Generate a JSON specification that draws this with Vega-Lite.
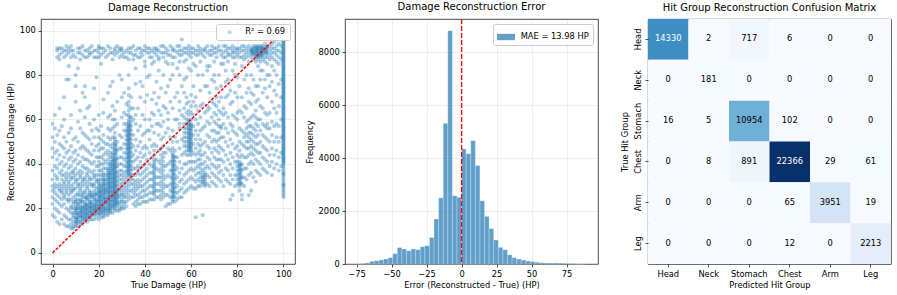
{
"$schema":"https://vega.github.io/schema/vega-lite/v6.json",
"padding":{"left":5,"top":1,"right":0,"bottom":0},
"background":"white",
"spacing":50,
"bounds":"flush",
"resolve":{"scale":{"color":"independent"},"legend":{"color":"independent"}},
"config":{
"font":"DejaVu Sans",
"view":{"stroke":"#1a1a1a","strokeWidth":0.8},
"axis":{"labelFont":"DejaVu Sans","labelFontSize":8.3,"labelColor":"#000","titleFont":"DejaVu Sans","titleFontSize":8.3,"titleFontWeight":"normal","titleColor":"#000","tickColor":"#000","tickSize":2.9,"tickWidth":0.7,"labelPadding":2.9,"domain":false,"gridColor":"#b0b0b0","gridOpacity":0.3,"gridWidth":0.7,"labelFlush":false},
"axisX":{"titlePadding":2.4},
"axisY":{"titlePadding":4},
"title":{"font":"DejaVu Sans","fontSize":10,"fontWeight":"normal","color":"#000","baseline":"alphabetic","offset":6},
"legend":{"labelFont":"DejaVu Sans","labelFontSize":8.3,"labelColor":"#000","fillColor":"white","strokeColor":"#cccccc","cornerRadius":2,"padding":4,"orient":"top-right","offset":5}
},
"datasets":{
"hist":[
{"x0":-75.44,"x1":-72.16,"count":8},{"x0":-72.16,"x1":-68.88,"count":20},{"x0":-68.88,"x1":-65.6,"count":45},{"x0":-65.6,"x1":-62.32,"count":100},{"x0":-62.32,"x1":-59.04,"count":125},{"x0":-59.04,"x1":-55.76,"count":150},{"x0":-55.76,"x1":-52.48,"count":190},{"x0":-52.48,"x1":-49.2,"count":240},{"x0":-49.2,"x1":-45.92,"count":390},{"x0":-45.92,"x1":-42.64,"count":620},{"x0":-42.64,"x1":-39.36,"count":570},{"x0":-39.36,"x1":-36.08,"count":505},{"x0":-36.08,"x1":-32.8,"count":570},{"x0":-32.8,"x1":-29.52,"count":540},{"x0":-29.52,"x1":-26.24,"count":655},{"x0":-26.24,"x1":-22.96,"count":690},{"x0":-22.96,"x1":-19.68,"count":1000},{"x0":-19.68,"x1":-16.4,"count":1700},{"x0":-16.4,"x1":-13.12,"count":2500},{"x0":-13.12,"x1":-9.84,"count":5320},{"x0":-9.84,"x1":-6.56,"count":8820},{"x0":-6.56,"x1":-3.28,"count":2580},{"x0":-3.28,"x1":0,"count":2520},{"x0":0,"x1":3.28,"count":4350},{"x0":3.28,"x1":6.56,"count":4170},{"x0":6.56,"x1":9.84,"count":4660},{"x0":9.84,"x1":13.12,"count":3720},{"x0":13.12,"x1":16.4,"count":2390},{"x0":16.4,"x1":19.68,"count":1800},{"x0":19.68,"x1":22.96,"count":1340},{"x0":22.96,"x1":26.24,"count":910},{"x0":26.24,"x1":29.52,"count":630},{"x0":29.52,"x1":32.8,"count":540},{"x0":32.8,"x1":36.08,"count":350},{"x0":36.08,"x1":39.36,"count":240},{"x0":39.36,"x1":42.64,"count":190},{"x0":42.64,"x1":45.92,"count":150},{"x0":45.92,"x1":49.2,"count":115},{"x0":49.2,"x1":52.48,"count":90},{"x0":52.48,"x1":55.76,"count":65},{"x0":55.76,"x1":59.04,"count":50},{"x0":59.04,"x1":62.32,"count":40},{"x0":62.32,"x1":65.6,"count":40},{"x0":65.6,"x1":68.88,"count":40},{"x0":68.88,"x1":72.16,"count":35},{"x0":72.16,"x1":75.44,"count":25},{"x0":75.44,"x1":78.72,"count":20},{"x0":78.72,"x1":82,"count":15},{"x0":82,"x1":85.28,"count":10},{"x0":85.28,"x1":88.56,"count":5}
],
"cm":[
{"actual":"Head","pred":"Head","count":14330},{"actual":"Head","pred":"Neck","count":2},{"actual":"Head","pred":"Stomach","count":717},{"actual":"Head","pred":"Chest","count":6},{"actual":"Head","pred":"Arm","count":0},{"actual":"Head","pred":"Leg","count":0},
{"actual":"Neck","pred":"Head","count":0},{"actual":"Neck","pred":"Neck","count":181},{"actual":"Neck","pred":"Stomach","count":0},{"actual":"Neck","pred":"Chest","count":0},{"actual":"Neck","pred":"Arm","count":0},{"actual":"Neck","pred":"Leg","count":0},
{"actual":"Stomach","pred":"Head","count":16},{"actual":"Stomach","pred":"Neck","count":5},{"actual":"Stomach","pred":"Stomach","count":10954},{"actual":"Stomach","pred":"Chest","count":102},{"actual":"Stomach","pred":"Arm","count":0},{"actual":"Stomach","pred":"Leg","count":0},
{"actual":"Chest","pred":"Head","count":0},{"actual":"Chest","pred":"Neck","count":8},{"actual":"Chest","pred":"Stomach","count":891},{"actual":"Chest","pred":"Chest","count":22366},{"actual":"Chest","pred":"Arm","count":29},{"actual":"Chest","pred":"Leg","count":61},
{"actual":"Arm","pred":"Head","count":0},{"actual":"Arm","pred":"Neck","count":0},{"actual":"Arm","pred":"Stomach","count":0},{"actual":"Arm","pred":"Chest","count":65},{"actual":"Arm","pred":"Arm","count":3951},{"actual":"Arm","pred":"Leg","count":19},
{"actual":"Leg","pred":"Head","count":0},{"actual":"Leg","pred":"Neck","count":0},{"actual":"Leg","pred":"Stomach","count":0},{"actual":"Leg","pred":"Chest","count":12},{"actual":"Leg","pred":"Arm","count":0},{"actual":"Leg","pred":"Leg","count":2213}
],
"scatter":[
{"x":0,"y":17},{"x":0,"y":22},{"x":0,"y":25},{"x":0,"y":28},{"x":0,"y":30},{"x":0,"y":33},{"x":0,"y":37},{"x":0,"y":43},{"x":0,"y":47},{"x":0,"y":52},{"x":0,"y":58},
{"x":1,"y":16},{"x":1,"y":20},{"x":1,"y":24},{"x":1,"y":27},{"x":1,"y":29},{"x":1,"y":31},{"x":1,"y":35},{"x":1,"y":39},{"x":1,"y":45},{"x":1,"y":50},{"x":1,"y":56},{"x":1,"y":62},
{"x":2,"y":14},{"x":2,"y":19},{"x":2,"y":23},{"x":2,"y":26},{"x":2,"y":30},{"x":2,"y":33},{"x":2,"y":34},{"x":2,"y":38},{"x":2,"y":42},{"x":2,"y":46},{"x":2,"y":53},{"x":2,"y":88},{"x":2,"y":91},{"x":2,"y":92},
{"x":3,"y":13},{"x":3,"y":18},{"x":3,"y":22},{"x":3,"y":25},{"x":3,"y":28},{"x":3,"y":29},{"x":3,"y":31},{"x":3,"y":36},{"x":3,"y":40},{"x":3,"y":44},{"x":3,"y":49},{"x":3,"y":55},{"x":3,"y":65},{"x":3,"y":87},{"x":3,"y":89},{"x":3,"y":92},
{"x":4,"y":15},{"x":4,"y":21},{"x":4,"y":24},{"x":4,"y":27},{"x":4,"y":28},{"x":4,"y":30},{"x":4,"y":33},{"x":4,"y":35},{"x":4,"y":37},{"x":4,"y":41},{"x":4,"y":48},{"x":4,"y":57},{"x":4,"y":90},{"x":4,"y":92},
{"x":5,"y":13},{"x":5,"y":17},{"x":5,"y":22},{"x":5,"y":25},{"x":5,"y":26},{"x":5,"y":29},{"x":5,"y":31},{"x":5,"y":32},{"x":5,"y":35},{"x":5,"y":39},{"x":5,"y":43},{"x":5,"y":47},{"x":5,"y":52},{"x":5,"y":60},{"x":5,"y":70},{"x":5,"y":88},{"x":5,"y":91},
{"x":6,"y":12},{"x":6,"y":16},{"x":6,"y":20},{"x":6,"y":24},{"x":6,"y":27},{"x":6,"y":28},{"x":6,"y":30},{"x":6,"y":33},{"x":6,"y":34},{"x":6,"y":36},{"x":6,"y":40},{"x":6,"y":45},{"x":6,"y":50},{"x":6,"y":78},{"x":6,"y":89},{"x":6,"y":91},{"x":6,"y":93},
{"x":7,"y":12},{"x":7,"y":15},{"x":7,"y":19},{"x":7,"y":23},{"x":7,"y":24},{"x":7,"y":26},{"x":7,"y":29},{"x":7,"y":31},{"x":7,"y":32},{"x":7,"y":35},{"x":7,"y":38},{"x":7,"y":42},{"x":7,"y":46},{"x":7,"y":54},{"x":7,"y":78},{"x":7,"y":84},{"x":7,"y":90},{"x":7,"y":92},
{"x":8,"y":11},{"x":8,"y":13},{"x":8,"y":15},{"x":8,"y":18},{"x":8,"y":20},{"x":8,"y":21},{"x":8,"y":24},{"x":8,"y":27},{"x":8,"y":28},{"x":8,"y":30},{"x":8,"y":33},{"x":8,"y":34},{"x":8,"y":36},{"x":8,"y":39},{"x":8,"y":43},{"x":8,"y":48},{"x":8,"y":56},{"x":8,"y":62},{"x":8,"y":88},{"x":8,"y":91},{"x":8,"y":93},
{"x":9,"y":11},{"x":9,"y":12},{"x":9,"y":14},{"x":9,"y":16},{"x":9,"y":17},{"x":9,"y":18},{"x":9,"y":20},{"x":9,"y":22},{"x":9,"y":23},{"x":9,"y":25},{"x":9,"y":28},{"x":9,"y":29},{"x":9,"y":31},{"x":9,"y":34},{"x":9,"y":36},{"x":9,"y":37},{"x":9,"y":41},{"x":9,"y":45},{"x":9,"y":51},{"x":9,"y":89},{"x":9,"y":91},
{"x":10,"y":12},{"x":10,"y":13},{"x":10,"y":14},{"x":10,"y":15},{"x":10,"y":16},{"x":10,"y":18},{"x":10,"y":19},{"x":10,"y":20},{"x":10,"y":21},{"x":10,"y":23},{"x":10,"y":24},{"x":10,"y":26},{"x":10,"y":29},{"x":10,"y":32},{"x":10,"y":33},{"x":10,"y":35},{"x":10,"y":38},{"x":10,"y":42},{"x":10,"y":46},{"x":10,"y":52},{"x":10,"y":68},{"x":10,"y":75},{"x":10,"y":80},{"x":10,"y":88},
{"x":11,"y":12},{"x":11,"y":14},{"x":11,"y":15},{"x":11,"y":16},{"x":11,"y":17},{"x":11,"y":18},{"x":11,"y":20},{"x":11,"y":21},{"x":11,"y":22},{"x":11,"y":24},{"x":11,"y":26},{"x":11,"y":27},{"x":11,"y":30},{"x":11,"y":31},{"x":11,"y":33},{"x":11,"y":36},{"x":11,"y":40},{"x":11,"y":44},{"x":11,"y":50},{"x":11,"y":59},{"x":11,"y":83},{"x":11,"y":90},{"x":11,"y":92},
{"x":12,"y":13},{"x":12,"y":14},{"x":12,"y":16},{"x":12,"y":17},{"x":12,"y":18},{"x":12,"y":19},{"x":12,"y":20},{"x":12,"y":22},{"x":12,"y":23},{"x":12,"y":24},{"x":12,"y":26},{"x":12,"y":28},{"x":12,"y":29},{"x":12,"y":31},{"x":12,"y":34},{"x":12,"y":35},{"x":12,"y":37},{"x":12,"y":41},{"x":12,"y":47},{"x":12,"y":56},{"x":12,"y":64},{"x":12,"y":87},{"x":12,"y":90},{"x":12,"y":92},
{"x":13,"y":13},{"x":13,"y":15},{"x":13,"y":16},{"x":13,"y":17},{"x":13,"y":18},{"x":13,"y":19},{"x":13,"y":20},{"x":13,"y":21},{"x":13,"y":23},{"x":13,"y":25},{"x":13,"y":26},{"x":13,"y":27},{"x":13,"y":30},{"x":13,"y":32},{"x":13,"y":33},{"x":13,"y":36},{"x":13,"y":39},{"x":13,"y":43},{"x":13,"y":48},{"x":13,"y":54},{"x":13,"y":72},{"x":13,"y":89},{"x":13,"y":93},
{"x":14,"y":14},{"x":14,"y":15},{"x":14,"y":16},{"x":14,"y":17},{"x":14,"y":18},{"x":14,"y":19},{"x":14,"y":20},{"x":14,"y":21},{"x":14,"y":22},{"x":14,"y":23},{"x":14,"y":25},{"x":14,"y":27},{"x":14,"y":28},{"x":14,"y":31},{"x":14,"y":33},{"x":14,"y":34},{"x":14,"y":38},{"x":14,"y":42},{"x":14,"y":47},{"x":14,"y":53},{"x":14,"y":61},{"x":14,"y":70},{"x":14,"y":75},{"x":14,"y":88},{"x":14,"y":91},
{"x":15,"y":14},{"x":15,"y":16},{"x":15,"y":17},{"x":15,"y":18},{"x":15,"y":19},{"x":15,"y":20},{"x":15,"y":21},{"x":15,"y":22},{"x":15,"y":24},{"x":15,"y":25},{"x":15,"y":26},{"x":15,"y":29},{"x":15,"y":30},{"x":15,"y":32},{"x":15,"y":35},{"x":15,"y":36},{"x":15,"y":38},{"x":15,"y":42},{"x":15,"y":46},{"x":15,"y":52},{"x":15,"y":65},{"x":15,"y":88},{"x":15,"y":91},
{"x":16,"y":15},{"x":16,"y":16},{"x":16,"y":17},{"x":16,"y":18},{"x":16,"y":19},{"x":16,"y":20},{"x":16,"y":21},{"x":16,"y":22},{"x":16,"y":23},{"x":16,"y":24},{"x":16,"y":26},{"x":16,"y":27},{"x":16,"y":28},{"x":16,"y":31},{"x":16,"y":33},{"x":16,"y":34},{"x":16,"y":37},{"x":16,"y":41},{"x":16,"y":45},{"x":16,"y":51},{"x":16,"y":58},{"x":16,"y":66},{"x":16,"y":89},{"x":16,"y":90},{"x":16,"y":92},
{"x":17,"y":15},{"x":17,"y":17},{"x":17,"y":18},{"x":17,"y":19},{"x":17,"y":20},{"x":17,"y":21},{"x":17,"y":22},{"x":17,"y":23},{"x":17,"y":25},{"x":17,"y":26},{"x":17,"y":27},{"x":17,"y":30},{"x":17,"y":31},{"x":17,"y":33},{"x":17,"y":36},{"x":17,"y":40},{"x":17,"y":44},{"x":17,"y":49},{"x":17,"y":55},{"x":17,"y":90},{"x":17,"y":93},
{"x":18,"y":15},{"x":18,"y":17},{"x":18,"y":18},{"x":18,"y":19},{"x":18,"y":20},{"x":18,"y":21},{"x":18,"y":22},{"x":18,"y":24},{"x":18,"y":25},{"x":18,"y":26},{"x":18,"y":28},{"x":18,"y":30},{"x":18,"y":31},{"x":18,"y":34},{"x":18,"y":35},{"x":18,"y":37},{"x":18,"y":41},{"x":18,"y":46},{"x":18,"y":52},{"x":18,"y":60},{"x":18,"y":74},{"x":18,"y":88},{"x":18,"y":91},
{"x":19,"y":16},{"x":19,"y":18},{"x":19,"y":19},{"x":19,"y":20},{"x":19,"y":21},{"x":19,"y":22},{"x":19,"y":23},{"x":19,"y":24},{"x":19,"y":26},{"x":19,"y":27},{"x":19,"y":29},{"x":19,"y":32},{"x":19,"y":33},{"x":19,"y":35},{"x":19,"y":39},{"x":19,"y":43},{"x":19,"y":48},{"x":19,"y":56},{"x":19,"y":79},{"x":19,"y":88},{"x":19,"y":91},
{"x":20,"y":15},{"x":20,"y":17},{"x":20,"y":18},{"x":20,"y":19},{"x":20,"y":20},{"x":20,"y":21},{"x":20,"y":22},{"x":20,"y":23},{"x":20,"y":24},{"x":20,"y":25},{"x":20,"y":26},{"x":20,"y":27},{"x":20,"y":28},{"x":20,"y":29},{"x":20,"y":30},{"x":20,"y":31},{"x":20,"y":32},{"x":20,"y":33},{"x":20,"y":35},{"x":20,"y":37},{"x":20,"y":39},{"x":20,"y":41},{"x":20,"y":43},{"x":20,"y":46},{"x":20,"y":49},{"x":20,"y":52},{"x":20,"y":55},{"x":20,"y":62},{"x":20,"y":88},{"x":20,"y":90},{"x":20,"y":92},{"x":20,"y":93},
{"x":21,"y":16},{"x":21,"y":18},{"x":21,"y":19},{"x":21,"y":20},{"x":21,"y":21},{"x":21,"y":22},{"x":21,"y":23},{"x":21,"y":24},{"x":21,"y":25},{"x":21,"y":26},{"x":21,"y":27},{"x":21,"y":28},{"x":21,"y":29},{"x":21,"y":30},{"x":21,"y":31},{"x":21,"y":33},{"x":21,"y":35},{"x":21,"y":37},{"x":21,"y":40},{"x":21,"y":43},{"x":21,"y":47},{"x":21,"y":51},{"x":21,"y":57},{"x":21,"y":85},{"x":21,"y":89},{"x":21,"y":92},
{"x":22,"y":16},{"x":22,"y":17},{"x":22,"y":18},{"x":22,"y":19},{"x":22,"y":20},{"x":22,"y":21},{"x":22,"y":22},{"x":22,"y":23},{"x":22,"y":24},{"x":22,"y":25},{"x":22,"y":26},{"x":22,"y":27},{"x":22,"y":28},{"x":22,"y":29},{"x":22,"y":30},{"x":22,"y":31},{"x":22,"y":32},{"x":22,"y":33},{"x":22,"y":34},{"x":22,"y":35},{"x":22,"y":36},{"x":22,"y":38},{"x":22,"y":40},{"x":22,"y":42},{"x":22,"y":44},{"x":22,"y":47},{"x":22,"y":50},{"x":22,"y":53},{"x":22,"y":63},{"x":22,"y":69},{"x":22,"y":90},{"x":22,"y":92},
{"x":23,"y":17},{"x":23,"y":19},{"x":23,"y":20},{"x":23,"y":22},{"x":23,"y":23},{"x":23,"y":24},{"x":23,"y":25},{"x":23,"y":27},{"x":23,"y":28},{"x":23,"y":29},{"x":23,"y":31},{"x":23,"y":33},{"x":23,"y":35},{"x":23,"y":38},{"x":23,"y":41},{"x":23,"y":45},{"x":23,"y":49},{"x":23,"y":88},{"x":23,"y":91},
{"x":24,"y":17},{"x":24,"y":18},{"x":24,"y":19},{"x":24,"y":20},{"x":24,"y":21},{"x":24,"y":22},{"x":24,"y":23},{"x":24,"y":24},{"x":24,"y":25},{"x":24,"y":26},{"x":24,"y":27},{"x":24,"y":28},{"x":24,"y":29},{"x":24,"y":30},{"x":24,"y":31},{"x":24,"y":32},{"x":24,"y":33},{"x":24,"y":34},{"x":24,"y":35},{"x":24,"y":36},{"x":24,"y":37},{"x":24,"y":38},{"x":24,"y":40},{"x":24,"y":42},{"x":24,"y":44},{"x":24,"y":46},{"x":24,"y":49},{"x":24,"y":52},{"x":24,"y":56},{"x":24,"y":61},{"x":24,"y":72},{"x":24,"y":89},{"x":24,"y":93},
{"x":25,"y":18},{"x":25,"y":19},{"x":25,"y":20},{"x":25,"y":21},{"x":25,"y":22},{"x":25,"y":23},{"x":25,"y":24},{"x":25,"y":25},{"x":25,"y":26},{"x":25,"y":27},{"x":25,"y":28},{"x":25,"y":29},{"x":25,"y":30},{"x":25,"y":31},{"x":25,"y":32},{"x":25,"y":33},{"x":25,"y":34},{"x":25,"y":35},{"x":25,"y":36},{"x":25,"y":37},{"x":25,"y":38},{"x":25,"y":39},{"x":25,"y":40},{"x":25,"y":41},{"x":25,"y":43},{"x":25,"y":45},{"x":25,"y":48},{"x":25,"y":51},{"x":25,"y":55},{"x":25,"y":62},{"x":25,"y":75},{"x":25,"y":90},{"x":25,"y":92},
{"x":26,"y":18},{"x":26,"y":20},{"x":26,"y":21},{"x":26,"y":22},{"x":26,"y":23},{"x":26,"y":24},{"x":26,"y":25},{"x":26,"y":26},{"x":26,"y":27},{"x":26,"y":28},{"x":26,"y":29},{"x":26,"y":30},{"x":26,"y":31},{"x":26,"y":32},{"x":26,"y":33},{"x":26,"y":34},{"x":26,"y":35},{"x":26,"y":36},{"x":26,"y":37},{"x":26,"y":38},{"x":26,"y":39},{"x":26,"y":40},{"x":26,"y":41},{"x":26,"y":42},{"x":26,"y":43},{"x":26,"y":44},{"x":26,"y":45},{"x":26,"y":47},{"x":26,"y":49},{"x":26,"y":52},{"x":26,"y":56},{"x":26,"y":60},{"x":26,"y":66},{"x":26,"y":77},{"x":26,"y":87},{"x":26,"y":90},
{"x":27,"y":19},{"x":27,"y":20},{"x":27,"y":21},{"x":27,"y":22},{"x":27,"y":23},{"x":27,"y":24},{"x":27,"y":25},{"x":27,"y":26},{"x":27,"y":27},{"x":27,"y":28},{"x":27,"y":29},{"x":27,"y":30},{"x":27,"y":31},{"x":27,"y":32},{"x":27,"y":33},{"x":27,"y":34},{"x":27,"y":35},{"x":27,"y":36},{"x":27,"y":37},{"x":27,"y":38},{"x":27,"y":39},{"x":27,"y":40},{"x":27,"y":41},{"x":27,"y":42},{"x":27,"y":43},{"x":27,"y":44},{"x":27,"y":45},{"x":27,"y":46},{"x":27,"y":47},{"x":27,"y":48},{"x":27,"y":49},{"x":27,"y":50},{"x":27,"y":51},{"x":27,"y":52},{"x":27,"y":54},{"x":27,"y":57},{"x":27,"y":60},{"x":27,"y":64},{"x":27,"y":89},{"x":27,"y":91},{"x":27,"y":92},
{"x":28,"y":19},{"x":28,"y":21},{"x":28,"y":22},{"x":28,"y":23},{"x":28,"y":24},{"x":28,"y":25},{"x":28,"y":26},{"x":28,"y":27},{"x":28,"y":28},{"x":28,"y":30},{"x":28,"y":32},{"x":28,"y":34},{"x":28,"y":36},{"x":28,"y":39},{"x":28,"y":42},{"x":28,"y":46},{"x":28,"y":50},{"x":28,"y":58},{"x":28,"y":68},{"x":28,"y":90},{"x":28,"y":93},
{"x":29,"y":19},{"x":29,"y":20},{"x":29,"y":22},{"x":29,"y":23},{"x":29,"y":25},{"x":29,"y":26},{"x":29,"y":28},{"x":29,"y":29},{"x":29,"y":31},{"x":29,"y":33},{"x":29,"y":35},{"x":29,"y":37},{"x":29,"y":40},{"x":29,"y":43},{"x":29,"y":47},{"x":29,"y":53},{"x":29,"y":80},{"x":29,"y":88},{"x":29,"y":91},{"x":29,"y":92},
{"x":30,"y":20},{"x":30,"y":21},{"x":30,"y":23},{"x":30,"y":24},{"x":30,"y":26},{"x":30,"y":27},{"x":30,"y":29},{"x":30,"y":31},{"x":30,"y":33},{"x":30,"y":35},{"x":30,"y":37},{"x":30,"y":40},{"x":30,"y":43},{"x":30,"y":47},{"x":30,"y":52},{"x":30,"y":61},{"x":30,"y":70},{"x":30,"y":78},{"x":30,"y":89},{"x":30,"y":91},{"x":30,"y":92},
{"x":31,"y":20},{"x":31,"y":22},{"x":31,"y":23},{"x":31,"y":25},{"x":31,"y":26},{"x":31,"y":28},{"x":31,"y":30},{"x":31,"y":32},{"x":31,"y":34},{"x":31,"y":36},{"x":31,"y":39},{"x":31,"y":42},{"x":31,"y":45},{"x":31,"y":49},{"x":31,"y":55},{"x":31,"y":58},{"x":31,"y":63},{"x":31,"y":72},{"x":31,"y":88},{"x":31,"y":90},
{"x":32,"y":21},{"x":32,"y":23},{"x":32,"y":25},{"x":32,"y":27},{"x":32,"y":29},{"x":32,"y":31},{"x":32,"y":33},{"x":32,"y":35},{"x":32,"y":37},{"x":32,"y":39},{"x":32,"y":41},{"x":32,"y":43},{"x":32,"y":45},{"x":32,"y":47},{"x":32,"y":49},{"x":32,"y":51},{"x":32,"y":53},{"x":32,"y":55},{"x":32,"y":58},{"x":32,"y":62},{"x":32,"y":67},{"x":32,"y":88},{"x":32,"y":91},
{"x":33,"y":24},{"x":33,"y":26},{"x":33,"y":28},{"x":33,"y":30},{"x":33,"y":32},{"x":33,"y":34},{"x":33,"y":35},{"x":33,"y":36},{"x":33,"y":37},{"x":33,"y":38},{"x":33,"y":39},{"x":33,"y":40},{"x":33,"y":41},{"x":33,"y":42},{"x":33,"y":43},{"x":33,"y":44},{"x":33,"y":45},{"x":33,"y":46},{"x":33,"y":47},{"x":33,"y":48},{"x":33,"y":49},{"x":33,"y":50},{"x":33,"y":51},{"x":33,"y":52},{"x":33,"y":53},{"x":33,"y":54},{"x":33,"y":55},{"x":33,"y":56},{"x":33,"y":57},{"x":33,"y":58},{"x":33,"y":59},{"x":33,"y":60},{"x":33,"y":62},{"x":33,"y":64},{"x":33,"y":66},{"x":33,"y":68},{"x":33,"y":71},{"x":33,"y":74},{"x":33,"y":80},{"x":33,"y":87},{"x":33,"y":90},{"x":33,"y":92},
{"x":34,"y":25},{"x":34,"y":28},{"x":34,"y":31},{"x":34,"y":33},{"x":34,"y":35},{"x":34,"y":37},{"x":34,"y":39},{"x":34,"y":41},{"x":34,"y":43},{"x":34,"y":45},{"x":34,"y":47},{"x":34,"y":49},{"x":34,"y":51},{"x":34,"y":53},{"x":34,"y":55},{"x":34,"y":57},{"x":34,"y":59},{"x":34,"y":61},{"x":34,"y":65},{"x":34,"y":70},{"x":34,"y":90},{"x":34,"y":92},
{"x":35,"y":22},{"x":35,"y":25},{"x":35,"y":27},{"x":35,"y":29},{"x":35,"y":31},{"x":35,"y":33},{"x":35,"y":35},{"x":35,"y":38},{"x":35,"y":41},{"x":35,"y":44},{"x":35,"y":48},{"x":35,"y":53},{"x":35,"y":60},{"x":35,"y":65},{"x":35,"y":87},{"x":35,"y":89},{"x":35,"y":93},
{"x":36,"y":21},{"x":36,"y":23},{"x":36,"y":26},{"x":36,"y":28},{"x":36,"y":30},{"x":36,"y":32},{"x":36,"y":35},{"x":36,"y":38},{"x":36,"y":42},{"x":36,"y":46},{"x":36,"y":51},{"x":36,"y":58},{"x":36,"y":62},{"x":36,"y":76},{"x":36,"y":83},{"x":36,"y":89},{"x":36,"y":91},
{"x":37,"y":22},{"x":37,"y":24},{"x":37,"y":26},{"x":37,"y":29},{"x":37,"y":31},{"x":37,"y":33},{"x":37,"y":36},{"x":37,"y":39},{"x":37,"y":43},{"x":37,"y":48},{"x":37,"y":55},{"x":37,"y":65},{"x":37,"y":88},{"x":37,"y":92},
{"x":38,"y":22},{"x":38,"y":25},{"x":38,"y":27},{"x":38,"y":30},{"x":38,"y":32},{"x":38,"y":35},{"x":38,"y":38},{"x":38,"y":41},{"x":38,"y":45},{"x":38,"y":50},{"x":38,"y":57},{"x":38,"y":70},{"x":38,"y":77},{"x":38,"y":88},{"x":38,"y":90},{"x":38,"y":92},
{"x":39,"y":23},{"x":39,"y":25},{"x":39,"y":28},{"x":39,"y":30},{"x":39,"y":33},{"x":39,"y":36},{"x":39,"y":39},{"x":39,"y":43},{"x":39,"y":47},{"x":39,"y":53},{"x":39,"y":62},{"x":39,"y":75},{"x":39,"y":89},{"x":39,"y":91},
{"x":40,"y":23},{"x":40,"y":26},{"x":40,"y":28},{"x":40,"y":31},{"x":40,"y":34},{"x":40,"y":37},{"x":40,"y":40},{"x":40,"y":44},{"x":40,"y":48},{"x":40,"y":54},{"x":40,"y":60},{"x":40,"y":68},{"x":40,"y":84},{"x":40,"y":86},{"x":40,"y":91},{"x":40,"y":93},
{"x":41,"y":23},{"x":41,"y":26},{"x":41,"y":29},{"x":41,"y":32},{"x":41,"y":35},{"x":41,"y":38},{"x":41,"y":42},{"x":41,"y":47},{"x":41,"y":55},{"x":41,"y":71},{"x":41,"y":79},{"x":41,"y":90},{"x":41,"y":92},
{"x":42,"y":24},{"x":42,"y":27},{"x":42,"y":30},{"x":42,"y":33},{"x":42,"y":36},{"x":42,"y":40},{"x":42,"y":45},{"x":42,"y":51},{"x":42,"y":55},{"x":42,"y":60},{"x":42,"y":80},{"x":42,"y":88},{"x":42,"y":90},{"x":42,"y":92},
{"x":43,"y":24},{"x":43,"y":27},{"x":43,"y":30},{"x":43,"y":33},{"x":43,"y":36},{"x":43,"y":39},{"x":43,"y":43},{"x":43,"y":48},{"x":43,"y":57},{"x":43,"y":63},{"x":43,"y":69},{"x":43,"y":85},{"x":43,"y":88},{"x":43,"y":91},
{"x":44,"y":24},{"x":44,"y":26},{"x":44,"y":27},{"x":44,"y":28},{"x":44,"y":29},{"x":44,"y":30},{"x":44,"y":31},{"x":44,"y":32},{"x":44,"y":33},{"x":44,"y":34},{"x":44,"y":35},{"x":44,"y":36},{"x":44,"y":37},{"x":44,"y":38},{"x":44,"y":39},{"x":44,"y":40},{"x":44,"y":41},{"x":44,"y":42},{"x":44,"y":44},{"x":44,"y":46},{"x":44,"y":49},{"x":44,"y":54},{"x":44,"y":62},{"x":44,"y":72},{"x":44,"y":86},{"x":44,"y":90},{"x":44,"y":92},
{"x":45,"y":25},{"x":45,"y":28},{"x":45,"y":31},{"x":45,"y":34},{"x":45,"y":38},{"x":45,"y":42},{"x":45,"y":48},{"x":45,"y":58},{"x":45,"y":67},{"x":45,"y":77},{"x":45,"y":89},{"x":45,"y":91},{"x":45,"y":92},
{"x":46,"y":25},{"x":46,"y":28},{"x":46,"y":31},{"x":46,"y":34},{"x":46,"y":37},{"x":46,"y":41},{"x":46,"y":46},{"x":46,"y":53},{"x":46,"y":58},{"x":46,"y":64},{"x":46,"y":70},{"x":46,"y":82},{"x":46,"y":87},{"x":46,"y":88},{"x":46,"y":91},
{"x":47,"y":24},{"x":47,"y":26},{"x":47,"y":28},{"x":47,"y":30},{"x":47,"y":32},{"x":47,"y":34},{"x":47,"y":36},{"x":47,"y":38},{"x":47,"y":40},{"x":47,"y":42},{"x":47,"y":44},{"x":47,"y":47},{"x":47,"y":51},{"x":47,"y":57},{"x":47,"y":62},{"x":47,"y":74},{"x":47,"y":90},{"x":47,"y":93},
{"x":48,"y":25},{"x":48,"y":27},{"x":48,"y":29},{"x":48,"y":31},{"x":48,"y":33},{"x":48,"y":35},{"x":48,"y":37},{"x":48,"y":39},{"x":48,"y":41},{"x":48,"y":43},{"x":48,"y":45},{"x":48,"y":48},{"x":48,"y":52},{"x":48,"y":59},{"x":48,"y":66},{"x":48,"y":80},{"x":48,"y":88},{"x":48,"y":90},{"x":48,"y":93},
{"x":49,"y":21},{"x":49,"y":26},{"x":49,"y":30},{"x":49,"y":34},{"x":49,"y":39},{"x":49,"y":45},{"x":49,"y":54},{"x":49,"y":65},{"x":49,"y":72},{"x":49,"y":86},{"x":49,"y":90},{"x":49,"y":92},
{"x":50,"y":22},{"x":50,"y":26},{"x":50,"y":30},{"x":50,"y":35},{"x":50,"y":40},{"x":50,"y":47},{"x":50,"y":56},{"x":50,"y":60},{"x":50,"y":63},{"x":50,"y":75},{"x":50,"y":85},{"x":50,"y":89},{"x":50,"y":91},
{"x":51,"y":22},{"x":51,"y":25},{"x":51,"y":28},{"x":51,"y":31},{"x":51,"y":34},{"x":51,"y":37},{"x":51,"y":41},{"x":51,"y":46},{"x":51,"y":52},{"x":51,"y":68},{"x":51,"y":78},{"x":51,"y":89},{"x":51,"y":93},
{"x":52,"y":23},{"x":52,"y":24},{"x":52,"y":25},{"x":52,"y":26},{"x":52,"y":27},{"x":52,"y":28},{"x":52,"y":29},{"x":52,"y":30},{"x":52,"y":31},{"x":52,"y":32},{"x":52,"y":33},{"x":52,"y":34},{"x":52,"y":35},{"x":52,"y":36},{"x":52,"y":37},{"x":52,"y":38},{"x":52,"y":39},{"x":52,"y":40},{"x":52,"y":41},{"x":52,"y":42},{"x":52,"y":43},{"x":52,"y":44},{"x":52,"y":45},{"x":52,"y":47},{"x":52,"y":50},{"x":52,"y":55},{"x":52,"y":65},{"x":52,"y":80},{"x":52,"y":85},{"x":52,"y":88},{"x":52,"y":91},{"x":52,"y":92},
{"x":53,"y":23},{"x":53,"y":25},{"x":53,"y":27},{"x":53,"y":29},{"x":53,"y":31},{"x":53,"y":33},{"x":53,"y":35},{"x":53,"y":37},{"x":53,"y":39},{"x":53,"y":41},{"x":53,"y":43},{"x":53,"y":46},{"x":53,"y":52},{"x":53,"y":60},{"x":53,"y":70},{"x":53,"y":88},{"x":53,"y":91},
{"x":54,"y":24},{"x":54,"y":27},{"x":54,"y":30},{"x":54,"y":34},{"x":54,"y":38},{"x":54,"y":43},{"x":54,"y":50},{"x":54,"y":60},{"x":54,"y":72},{"x":54,"y":83},{"x":54,"y":90},{"x":54,"y":93},
{"x":55,"y":25},{"x":55,"y":28},{"x":55,"y":32},{"x":55,"y":36},{"x":55,"y":41},{"x":55,"y":47},{"x":55,"y":56},{"x":55,"y":58},{"x":55,"y":64},{"x":55,"y":68},{"x":55,"y":80},{"x":55,"y":86},{"x":55,"y":89},{"x":55,"y":91},{"x":55,"y":93},
{"x":56,"y":25},{"x":56,"y":29},{"x":56,"y":33},{"x":56,"y":38},{"x":56,"y":44},{"x":56,"y":51},{"x":56,"y":62},{"x":56,"y":75},{"x":56,"y":89},{"x":56,"y":91},{"x":56,"y":96},
{"x":57,"y":27},{"x":57,"y":31},{"x":57,"y":35},{"x":57,"y":40},{"x":57,"y":45},{"x":57,"y":48},{"x":57,"y":50},{"x":57,"y":52},{"x":57,"y":54},{"x":57,"y":56},{"x":57,"y":58},{"x":57,"y":61},{"x":57,"y":65},{"x":57,"y":72},{"x":57,"y":78},{"x":57,"y":86},{"x":57,"y":90},{"x":57,"y":92},
{"x":58,"y":28},{"x":58,"y":32},{"x":58,"y":36},{"x":58,"y":40},{"x":58,"y":44},{"x":58,"y":46},{"x":58,"y":48},{"x":58,"y":50},{"x":58,"y":52},{"x":58,"y":54},{"x":58,"y":56},{"x":58,"y":58},{"x":58,"y":60},{"x":58,"y":63},{"x":58,"y":67},{"x":58,"y":70},{"x":58,"y":79},{"x":58,"y":87},{"x":58,"y":90},{"x":58,"y":92},
{"x":59,"y":29},{"x":59,"y":33},{"x":59,"y":37},{"x":59,"y":41},{"x":59,"y":44},{"x":59,"y":46},{"x":59,"y":47},{"x":59,"y":48},{"x":59,"y":49},{"x":59,"y":50},{"x":59,"y":51},{"x":59,"y":52},{"x":59,"y":53},{"x":59,"y":54},{"x":59,"y":55},{"x":59,"y":56},{"x":59,"y":57},{"x":59,"y":58},{"x":59,"y":59},{"x":59,"y":60},{"x":59,"y":62},{"x":59,"y":64},{"x":59,"y":68},{"x":59,"y":83},{"x":59,"y":89},{"x":59,"y":91},{"x":59,"y":93},
{"x":60,"y":30},{"x":60,"y":34},{"x":60,"y":38},{"x":60,"y":41},{"x":60,"y":44},{"x":60,"y":46},{"x":60,"y":47},{"x":60,"y":48},{"x":60,"y":49},{"x":60,"y":50},{"x":60,"y":51},{"x":60,"y":52},{"x":60,"y":53},{"x":60,"y":54},{"x":60,"y":55},{"x":60,"y":56},{"x":60,"y":57},{"x":60,"y":58},{"x":60,"y":60},{"x":60,"y":63},{"x":60,"y":66},{"x":60,"y":71},{"x":60,"y":82},{"x":60,"y":88},{"x":60,"y":90},{"x":60,"y":92},
{"x":61,"y":29},{"x":61,"y":33},{"x":61,"y":37},{"x":61,"y":41},{"x":61,"y":45},{"x":61,"y":49},{"x":61,"y":53},{"x":61,"y":57},{"x":61,"y":62},{"x":61,"y":68},{"x":61,"y":75},{"x":61,"y":85},{"x":61,"y":90},{"x":61,"y":92},
{"x":62,"y":16},{"x":62,"y":29},{"x":62,"y":32},{"x":62,"y":35},{"x":62,"y":38},{"x":62,"y":41},{"x":62,"y":44},{"x":62,"y":47},{"x":62,"y":51},{"x":62,"y":55},{"x":62,"y":60},{"x":62,"y":66},{"x":62,"y":70},{"x":62,"y":84},{"x":62,"y":89},{"x":62,"y":91},
{"x":63,"y":30},{"x":63,"y":33},{"x":63,"y":36},{"x":63,"y":39},{"x":63,"y":42},{"x":63,"y":45},{"x":63,"y":49},{"x":63,"y":53},{"x":63,"y":58},{"x":63,"y":64},{"x":63,"y":80},{"x":63,"y":89},{"x":63,"y":91},{"x":63,"y":93},
{"x":64,"y":30},{"x":64,"y":32},{"x":64,"y":34},{"x":64,"y":36},{"x":64,"y":38},{"x":64,"y":40},{"x":64,"y":42},{"x":64,"y":44},{"x":64,"y":46},{"x":64,"y":48},{"x":64,"y":51},{"x":64,"y":55},{"x":64,"y":61},{"x":64,"y":66},{"x":64,"y":73},{"x":64,"y":86},{"x":64,"y":90},{"x":64,"y":92},
{"x":65,"y":17},{"x":65,"y":31},{"x":65,"y":32},{"x":65,"y":33},{"x":65,"y":34},{"x":65,"y":35},{"x":65,"y":37},{"x":65,"y":40},{"x":65,"y":44},{"x":65,"y":49},{"x":65,"y":56},{"x":65,"y":67},{"x":65,"y":80},{"x":65,"y":89},{"x":65,"y":91},
{"x":66,"y":30},{"x":66,"y":31},{"x":66,"y":32},{"x":66,"y":33},{"x":66,"y":34},{"x":66,"y":35},{"x":66,"y":36},{"x":66,"y":38},{"x":66,"y":41},{"x":66,"y":45},{"x":66,"y":50},{"x":66,"y":57},{"x":66,"y":63},{"x":66,"y":75},{"x":66,"y":88},{"x":66,"y":91},{"x":66,"y":92},
{"x":67,"y":31},{"x":67,"y":35},{"x":67,"y":39},{"x":67,"y":43},{"x":67,"y":48},{"x":67,"y":53},{"x":67,"y":59},{"x":67,"y":64},{"x":67,"y":66},{"x":67,"y":75},{"x":67,"y":82},{"x":67,"y":84},{"x":67,"y":90},{"x":67,"y":93},
{"x":68,"y":30},{"x":68,"y":34},{"x":68,"y":38},{"x":68,"y":42},{"x":68,"y":47},{"x":68,"y":52},{"x":68,"y":58},{"x":68,"y":65},{"x":68,"y":72},{"x":68,"y":84},{"x":68,"y":89},{"x":68,"y":91},
{"x":69,"y":32},{"x":69,"y":36},{"x":69,"y":40},{"x":69,"y":45},{"x":69,"y":50},{"x":69,"y":55},{"x":69,"y":61},{"x":69,"y":68},{"x":69,"y":78},{"x":69,"y":89},{"x":69,"y":91},{"x":69,"y":93},
{"x":70,"y":31},{"x":70,"y":35},{"x":70,"y":39},{"x":70,"y":43},{"x":70,"y":47},{"x":70,"y":51},{"x":70,"y":55},{"x":70,"y":59},{"x":70,"y":63},{"x":70,"y":67},{"x":70,"y":77},{"x":70,"y":80},{"x":70,"y":86},{"x":70,"y":90},{"x":70,"y":92},
{"x":71,"y":30},{"x":71,"y":34},{"x":71,"y":38},{"x":71,"y":42},{"x":71,"y":46},{"x":71,"y":50},{"x":71,"y":54},{"x":71,"y":58},{"x":71,"y":62},{"x":71,"y":66},{"x":71,"y":70},{"x":71,"y":74},{"x":71,"y":88},{"x":71,"y":90},{"x":71,"y":92},
{"x":72,"y":33},{"x":72,"y":36},{"x":72,"y":39},{"x":72,"y":42},{"x":72,"y":45},{"x":72,"y":48},{"x":72,"y":51},{"x":72,"y":54},{"x":72,"y":57},{"x":72,"y":60},{"x":72,"y":64},{"x":72,"y":68},{"x":72,"y":80},{"x":72,"y":91},{"x":72,"y":93},
{"x":73,"y":32},{"x":73,"y":37},{"x":73,"y":42},{"x":73,"y":47},{"x":73,"y":52},{"x":73,"y":56},{"x":73,"y":57},{"x":73,"y":63},{"x":73,"y":70},{"x":73,"y":75},{"x":73,"y":85},{"x":73,"y":89},{"x":73,"y":91},
{"x":74,"y":30},{"x":74,"y":35},{"x":74,"y":41},{"x":74,"y":46},{"x":74,"y":52},{"x":74,"y":58},{"x":74,"y":62},{"x":74,"y":65},{"x":74,"y":85},{"x":74,"y":88},{"x":74,"y":90},{"x":74,"y":93},
{"x":75,"y":33},{"x":75,"y":38},{"x":75,"y":44},{"x":75,"y":50},{"x":75,"y":56},{"x":75,"y":63},{"x":75,"y":70},{"x":75,"y":77},{"x":75,"y":82},{"x":75,"y":88},{"x":75,"y":91},{"x":75,"y":93},
{"x":76,"y":32},{"x":76,"y":37},{"x":76,"y":42},{"x":76,"y":48},{"x":76,"y":54},{"x":76,"y":61},{"x":76,"y":71},{"x":76,"y":78},{"x":76,"y":86},{"x":76,"y":89},{"x":76,"y":90},{"x":76,"y":92},
{"x":77,"y":24},{"x":77,"y":31},{"x":77,"y":35},{"x":77,"y":40},{"x":77,"y":45},{"x":77,"y":51},{"x":77,"y":58},{"x":77,"y":67},{"x":77,"y":73},{"x":77,"y":89},{"x":77,"y":92},
{"x":78,"y":26},{"x":78,"y":33},{"x":78,"y":38},{"x":78,"y":43},{"x":78,"y":49},{"x":78,"y":55},{"x":78,"y":57},{"x":78,"y":62},{"x":78,"y":68},{"x":78,"y":82},{"x":78,"y":88},{"x":78,"y":90},{"x":78,"y":91},{"x":78,"y":93},
{"x":79,"y":30},{"x":79,"y":35},{"x":79,"y":41},{"x":79,"y":47},{"x":79,"y":54},{"x":79,"y":61},{"x":79,"y":72},{"x":79,"y":80},{"x":79,"y":85},{"x":79,"y":88},{"x":79,"y":90},{"x":79,"y":92},
{"x":80,"y":31},{"x":80,"y":33},{"x":80,"y":35},{"x":80,"y":37},{"x":80,"y":39},{"x":80,"y":41},{"x":80,"y":44},{"x":80,"y":48},{"x":80,"y":53},{"x":80,"y":60},{"x":80,"y":63},{"x":80,"y":70},{"x":80,"y":79},{"x":80,"y":89},{"x":80,"y":91},{"x":80,"y":92},
{"x":81,"y":28},{"x":81,"y":30},{"x":81,"y":31},{"x":81,"y":32},{"x":81,"y":33},{"x":81,"y":34},{"x":81,"y":35},{"x":81,"y":36},{"x":81,"y":37},{"x":81,"y":38},{"x":81,"y":39},{"x":81,"y":40},{"x":81,"y":41},{"x":81,"y":43},{"x":81,"y":46},{"x":81,"y":50},{"x":81,"y":56},{"x":81,"y":64},{"x":81,"y":75},{"x":81,"y":88},{"x":81,"y":90},{"x":81,"y":92},
{"x":82,"y":24},{"x":82,"y":26},{"x":82,"y":31},{"x":82,"y":34},{"x":82,"y":37},{"x":82,"y":40},{"x":82,"y":44},{"x":82,"y":49},{"x":82,"y":55},{"x":82,"y":63},{"x":82,"y":70},{"x":82,"y":84},{"x":82,"y":88},{"x":82,"y":91},{"x":82,"y":93},
{"x":83,"y":30},{"x":83,"y":34},{"x":83,"y":38},{"x":83,"y":43},{"x":83,"y":48},{"x":83,"y":52},{"x":83,"y":54},{"x":83,"y":61},{"x":83,"y":66},{"x":83,"y":78},{"x":83,"y":87},{"x":83,"y":89},{"x":83,"y":91},{"x":83,"y":93},
{"x":84,"y":33},{"x":84,"y":38},{"x":84,"y":43},{"x":84,"y":47},{"x":84,"y":50},{"x":84,"y":53},{"x":84,"y":56},{"x":84,"y":59},{"x":84,"y":65},{"x":84,"y":72},{"x":84,"y":80},{"x":84,"y":88},{"x":84,"y":90},{"x":84,"y":92},
{"x":85,"y":26},{"x":85,"y":35},{"x":85,"y":40},{"x":85,"y":44},{"x":85,"y":47},{"x":85,"y":50},{"x":85,"y":52},{"x":85,"y":54},{"x":85,"y":57},{"x":85,"y":60},{"x":85,"y":68},{"x":85,"y":74},{"x":85,"y":86},{"x":85,"y":89},{"x":85,"y":91},{"x":85,"y":93},
{"x":86,"y":28},{"x":86,"y":36},{"x":86,"y":41},{"x":86,"y":45},{"x":86,"y":48},{"x":86,"y":51},{"x":86,"y":54},{"x":86,"y":57},{"x":86,"y":61},{"x":86,"y":67},{"x":86,"y":72},{"x":86,"y":80},{"x":86,"y":88},{"x":86,"y":90},{"x":86,"y":91},{"x":86,"y":92},
{"x":87,"y":34},{"x":87,"y":40},{"x":87,"y":44},{"x":87,"y":47},{"x":87,"y":50},{"x":87,"y":53},{"x":87,"y":56},{"x":87,"y":62},{"x":87,"y":71},{"x":87,"y":78},{"x":87,"y":87},{"x":87,"y":89},{"x":87,"y":90},{"x":87,"y":91},{"x":87,"y":92},{"x":87,"y":93},
{"x":88,"y":32},{"x":88,"y":37},{"x":88,"y":42},{"x":88,"y":46},{"x":88,"y":49},{"x":88,"y":52},{"x":88,"y":55},{"x":88,"y":58},{"x":88,"y":61},{"x":88,"y":64},{"x":88,"y":68},{"x":88,"y":75},{"x":88,"y":86},{"x":88,"y":88},{"x":88,"y":89},{"x":88,"y":90},{"x":88,"y":91},{"x":88,"y":92},{"x":88,"y":93},
{"x":89,"y":36},{"x":89,"y":41},{"x":89,"y":45},{"x":89,"y":49},{"x":89,"y":53},{"x":89,"y":57},{"x":89,"y":60},{"x":89,"y":69},{"x":89,"y":75},{"x":89,"y":84},{"x":89,"y":87},{"x":89,"y":88},{"x":89,"y":89},{"x":89,"y":90},{"x":89,"y":91},{"x":89,"y":92},{"x":89,"y":93},
{"x":90,"y":35},{"x":90,"y":40},{"x":90,"y":45},{"x":90,"y":50},{"x":90,"y":55},{"x":90,"y":60},{"x":90,"y":66},{"x":90,"y":78},{"x":90,"y":82},{"x":90,"y":86},{"x":90,"y":88},{"x":90,"y":89},{"x":90,"y":90},{"x":90,"y":91},{"x":90,"y":92},{"x":90,"y":93},
{"x":91,"y":38},{"x":91,"y":43},{"x":91,"y":48},{"x":91,"y":53},{"x":91,"y":58},{"x":91,"y":65},{"x":91,"y":72},{"x":91,"y":82},{"x":91,"y":87},{"x":91,"y":89},{"x":91,"y":90},{"x":91,"y":91},{"x":91,"y":92},{"x":91,"y":93},
{"x":92,"y":37},{"x":92,"y":42},{"x":92,"y":47},{"x":92,"y":52},{"x":92,"y":57},{"x":92,"y":63},{"x":92,"y":74},{"x":92,"y":78},{"x":92,"y":86},{"x":92,"y":88},{"x":92,"y":90},{"x":92,"y":91},{"x":92,"y":92},{"x":92,"y":94},
{"x":93,"y":36},{"x":93,"y":41},{"x":93,"y":46},{"x":93,"y":51},{"x":93,"y":56},{"x":93,"y":58},{"x":93,"y":62},{"x":93,"y":70},{"x":93,"y":80},{"x":93,"y":85},{"x":93,"y":88},{"x":93,"y":90},{"x":93,"y":92},{"x":93,"y":93},
{"x":94,"y":39},{"x":94,"y":44},{"x":94,"y":50},{"x":94,"y":56},{"x":94,"y":63},{"x":94,"y":75},{"x":94,"y":80},{"x":94,"y":87},{"x":94,"y":89},{"x":94,"y":91},{"x":94,"y":93},
{"x":95,"y":35},{"x":95,"y":41},{"x":95,"y":47},{"x":95,"y":53},{"x":95,"y":59},{"x":95,"y":68},{"x":95,"y":77},{"x":95,"y":84},{"x":95,"y":88},{"x":95,"y":90},{"x":95,"y":92},{"x":95,"y":94},
{"x":96,"y":38},{"x":96,"y":44},{"x":96,"y":50},{"x":96,"y":57},{"x":96,"y":65},{"x":96,"y":73},{"x":96,"y":82},{"x":96,"y":87},{"x":96,"y":90},{"x":96,"y":92},{"x":96,"y":95},
{"x":97,"y":40},{"x":97,"y":46},{"x":97,"y":52},{"x":97,"y":58},{"x":97,"y":63},{"x":97,"y":71},{"x":97,"y":80},{"x":97,"y":86},{"x":97,"y":89},{"x":97,"y":91},{"x":97,"y":93},{"x":97,"y":96},
{"x":98,"y":37},{"x":98,"y":43},{"x":98,"y":50},{"x":98,"y":57},{"x":98,"y":66},{"x":98,"y":76},{"x":98,"y":85},{"x":98,"y":88},{"x":98,"y":91},{"x":98,"y":94},{"x":98,"y":97},
{"x":99,"y":39},{"x":99,"y":45},{"x":99,"y":52},{"x":99,"y":60},{"x":99,"y":70},{"x":99,"y":78},{"x":99,"y":87},{"x":99,"y":90},{"x":99,"y":93},{"x":99,"y":96},
{"x":100,"y":25},{"x":100,"y":26},{"x":100,"y":27},{"x":100,"y":28},{"x":100,"y":29},{"x":100,"y":30},{"x":100,"y":31},{"x":100,"y":32},{"x":100,"y":33},{"x":100,"y":34},{"x":100,"y":35},{"x":100,"y":36},{"x":100,"y":37},{"x":100,"y":38},{"x":100,"y":39},{"x":100,"y":40},{"x":100,"y":41},{"x":100,"y":42},{"x":100,"y":43},{"x":100,"y":44},{"x":100,"y":45},{"x":100,"y":46},{"x":100,"y":47},{"x":100,"y":48},{"x":100,"y":49},{"x":100,"y":50},{"x":100,"y":51},{"x":100,"y":52},{"x":100,"y":53},{"x":100,"y":54},{"x":100,"y":55},{"x":100,"y":56},{"x":100,"y":57},{"x":100,"y":58},{"x":100,"y":59},{"x":100,"y":60},{"x":100,"y":61},{"x":100,"y":62},{"x":100,"y":63},{"x":100,"y":64},{"x":100,"y":65},{"x":100,"y":66},{"x":100,"y":67},{"x":100,"y":68},{"x":100,"y":69},{"x":100,"y":70},{"x":100,"y":71},{"x":100,"y":72},{"x":100,"y":73},{"x":100,"y":74},{"x":100,"y":75},{"x":100,"y":76},{"x":100,"y":77},{"x":100,"y":78},{"x":100,"y":79},{"x":100,"y":80},{"x":100,"y":81},{"x":100,"y":82},{"x":100,"y":83},{"x":100,"y":84},{"x":100,"y":85},{"x":100,"y":86},{"x":100,"y":87},{"x":100,"y":88},{"x":100,"y":89},{"x":100,"y":90},{"x":100,"y":91},{"x":100,"y":92},{"x":100,"y":93},{"x":100,"y":94},{"x":100,"y":95},{"x":100,"y":96},{"x":100,"y":97},{"x":100,"y":98},{"x":100,"y":99},
{"x":100,"y":30.5},{"x":100,"y":35.5},{"x":100,"y":40.5},{"x":100,"y":41.5},{"x":100,"y":42.5},{"x":100,"y":43.5},{"x":100,"y":44.5},{"x":100,"y":45.5},{"x":100,"y":46.5},{"x":100,"y":47.5},{"x":100,"y":48.5},{"x":100,"y":49.5},{"x":100,"y":50.5},{"x":100,"y":51.5},{"x":100,"y":52.5},{"x":100,"y":53.5},{"x":100,"y":54.5},{"x":100,"y":55.5},{"x":100,"y":56.5},{"x":100,"y":57.5},{"x":100,"y":58.5},{"x":100,"y":59.5},{"x":100,"y":60.5},{"x":100,"y":61.5},{"x":100,"y":62.5},{"x":100,"y":63.5},{"x":100,"y":64.5},{"x":100,"y":65.5},{"x":100,"y":66.5},{"x":100,"y":67.5},{"x":100,"y":68.5},{"x":100,"y":69.5},{"x":100,"y":70.5},{"x":100,"y":71.5},{"x":100,"y":72.5},{"x":100,"y":73.5},{"x":100,"y":74.5},{"x":100,"y":75.5},{"x":100,"y":76.5},{"x":100,"y":77.5},{"x":100,"y":78.5},{"x":100,"y":79.5},{"x":100,"y":80.5},{"x":100,"y":81.5},{"x":100,"y":82.5},{"x":100,"y":83.5},{"x":100,"y":84.5},{"x":100,"y":85.5},{"x":100,"y":86.5},{"x":100,"y":87.5},{"x":100,"y":88.5},{"x":100,"y":89.5},{"x":100,"y":90.5},{"x":100,"y":91.5},{"x":100,"y":92.5},{"x":100,"y":93.5},{"x":100,"y":94.5},{"x":100,"y":95.5},{"x":100,"y":96.5},{"x":100,"y":97.5},
{"x":32.5,"y":36.5},{"x":32.5,"y":38.5},{"x":32.5,"y":40.5},{"x":32.5,"y":42.5},{"x":32.5,"y":44.5},{"x":32.5,"y":46.5},{"x":32.5,"y":48.5},{"x":32.5,"y":50.5},{"x":32.5,"y":52.5},{"x":32.5,"y":54.5},{"x":32.5,"y":56.5},
{"x":33.5,"y":35.5},{"x":33.5,"y":37.5},{"x":33.5,"y":39.5},{"x":33.5,"y":41.5},{"x":33.5,"y":43.5},{"x":33.5,"y":45.5},{"x":33.5,"y":47.5},{"x":33.5,"y":49.5},{"x":33.5,"y":51.5},{"x":33.5,"y":53.5},{"x":33.5,"y":55.5},{"x":33.5,"y":57.5},{"x":33.5,"y":61},
{"x":27.5,"y":22.5},{"x":27.5,"y":24.5},{"x":27.5,"y":26.5},{"x":27.5,"y":28.5},{"x":27.5,"y":30.5},{"x":27.5,"y":32.5},{"x":27.5,"y":34.5},{"x":27.5,"y":36.5},{"x":27.5,"y":38.5},{"x":27.5,"y":40.5},{"x":27.5,"y":42.5},{"x":27.5,"y":44.5},{"x":27.5,"y":46.5},{"x":27.5,"y":48.5},
{"x":26.5,"y":21.5},{"x":26.5,"y":23.5},{"x":26.5,"y":25.5},{"x":26.5,"y":27.5},{"x":26.5,"y":29.5},{"x":26.5,"y":31.5},{"x":26.5,"y":33.5},{"x":26.5,"y":35.5},{"x":26.5,"y":37.5},{"x":26.5,"y":39.5},{"x":26.5,"y":41.5},
{"x":24.5,"y":19.5},{"x":24.5,"y":21.5},{"x":24.5,"y":23.5},{"x":24.5,"y":25.5},{"x":24.5,"y":27.5},{"x":24.5,"y":29.5},{"x":24.5,"y":31.5},{"x":24.5,"y":33.5},{"x":24.5,"y":35.5},
{"x":22.5,"y":18.5},{"x":22.5,"y":20.5},{"x":22.5,"y":22.5},{"x":22.5,"y":24.5},{"x":22.5,"y":26.5},{"x":22.5,"y":28.5},{"x":22.5,"y":30.5},{"x":22.5,"y":32.5},
{"x":20.5,"y":17.5},{"x":20.5,"y":19.5},{"x":20.5,"y":21.5},{"x":20.5,"y":23.5},{"x":20.5,"y":25.5},{"x":20.5,"y":27.5},
{"x":10.5,"y":13.5},{"x":10.5,"y":15.5},{"x":10.5,"y":17.5},{"x":10.5,"y":19.5},{"x":10.5,"y":22.5},
{"x":12.5,"y":14.5},{"x":12.5,"y":16.5},{"x":12.5,"y":18.5},{"x":12.5,"y":20.5},{"x":12.5,"y":23.5},
{"x":14.5,"y":15.5},{"x":14.5,"y":17.5},{"x":14.5,"y":19.5},{"x":14.5,"y":21.5},{"x":14.5,"y":24.5},
{"x":16.5,"y":16.5},{"x":16.5,"y":18.5},{"x":16.5,"y":20.5},{"x":16.5,"y":22.5},{"x":16.5,"y":25.5},
{"x":18.5,"y":17.5},{"x":18.5,"y":19.5},{"x":18.5,"y":21.5},{"x":18.5,"y":23.5},{"x":18.5,"y":26.5},
{"x":52.5,"y":25.5},{"x":52.5,"y":27.5},{"x":52.5,"y":29.5},{"x":52.5,"y":31.5},{"x":52.5,"y":33.5},{"x":52.5,"y":35.5},{"x":52.5,"y":37.5},{"x":52.5,"y":39.5},{"x":52.5,"y":41.5},{"x":52.5,"y":43.5},
{"x":59.5,"y":45.5},{"x":59.5,"y":47.5},{"x":59.5,"y":49.5},{"x":59.5,"y":51.5},{"x":59.5,"y":53.5},{"x":59.5,"y":55.5},{"x":59.5,"y":57.5},
{"x":81.5,"y":31.5},{"x":81.5,"y":33.5},{"x":81.5,"y":35.5},{"x":81.5,"y":37.5},{"x":81.5,"y":39.5},
{"x":86.5,"y":89.5},{"x":86.5,"y":90.5},{"x":86.5,"y":91.5},
{"x":88.5,"y":88.5},{"x":88.5,"y":89.5},{"x":88.5,"y":90.5},{"x":88.5,"y":91.5},{"x":88.5,"y":92.5},
{"x":90.5,"y":88.5},{"x":90.5,"y":89.5},{"x":90.5,"y":90.5},{"x":90.5,"y":91.5},{"x":90.5,"y":92.5},
{"x":92.5,"y":89.5},{"x":92.5,"y":90.5},{"x":92.5,"y":91.5},{"x":92.5,"y":92.5}
]
},
"hconcat":[
{
"width":254,"height":245,
"title":"Damage Reconstruction",
"layer":[
{"data":{"name":"scatter"},
"mark":{"type":"circle","size":17,"opacity":0.36},
"encoding":{
"x":{"field":"x","type":"quantitative","scale":{"domain":[-5,105],"nice":false,"zero":false},"axis":{"title":"True Damage (HP)","values":[0,20,40,60,80,100]}},
"y":{"field":"y","type":"quantitative","scale":{"domain":[-5,105.2],"nice":false,"zero":false},"axis":{"title":"Reconstructed Damage (HP)","values":[0,20,40,60,80,100]}},
"color":{"datum":"R² = 0.69","scale":{"range":["#1f77b4"]},"legend":{"title":null,"symbolType":"circle","symbolSize":15,"symbolOpacity":0.3,"symbolOffset":5.5,"labelOffset":11.5,"symbolStrokeWidth":0}}
}},
{"data":{"values":[{"x":0,"y":0},{"x":100,"y":100}]},
"mark":{"type":"line","color":"#ff0000","strokeDash":[3,1.5],"strokeWidth":1.5},
"encoding":{"x":{"field":"x","type":"quantitative"},"y":{"field":"y","type":"quantitative"}}}
]
},
{
"width":253,"height":245,
"title":"Damage Reconstruction Error",
"layer":[
{"data":{"name":"hist"},
"mark":{"type":"rect","opacity":0.7,"stroke":"white","strokeWidth":0.3},
"encoding":{
"x":{"field":"x0","type":"quantitative","scale":{"domain":[-83.3,97.5],"nice":false,"zero":false},"axis":{"title":"Error (Reconstructed - True) (HP)","values":[-75,-50,-25,0,25,50,75]}},
"x2":{"field":"x1"},
"y":{"field":"count","type":"quantitative","scale":{"domain":[0,9260],"nice":false},"axis":{"title":"Frequency","values":[0,2000,4000,6000,8000],"format":"d"}},
"y2":{"datum":0},
"color":{"datum":"MAE = 13.98 HP","scale":{"range":["#1f77b4"]},"legend":{"title":null,"symbolType":"M-1,-0.35H1V0.35H-1Z","symbolSize":324,"symbolOpacity":0.7,"symbolOffset":0,"labelOffset":5.7,"symbolStrokeWidth":0}}
}},
{"data":{"values":[{"v":0}]},
"mark":{"type":"rule","color":"#ff0000","strokeDash":[5,2],"strokeWidth":1.3},
"encoding":{"x":{"field":"v","type":"quantitative"}}}
]
},
{
"width":243,"height":245,
"title":"Hit Group Reconstruction Confusion Matrix",
"data":{"name":"cm"},
"encoding":{
"x":{"field":"pred","type":"nominal","sort":["Head","Neck","Stomach","Chest","Arm","Leg"],"scale":{"paddingInner":0,"paddingOuter":0},"axis":{"title":"Predicted Hit Group","labelAngle":0,"grid":false}},
"y":{"field":"actual","type":"nominal","sort":["Head","Neck","Stomach","Chest","Arm","Leg"],"scale":{"paddingInner":0,"paddingOuter":0},"axis":{"title":"True Hit Group","labelAngle":270,"labelAlign":"center","labelBaseline":"bottom","grid":false}}
},
"layer":[
{"mark":{"type":"rect"},
"encoding":{"color":{"field":"count","type":"quantitative","scale":{"domain":[0,2795.75,5591.5,8387.25,11183,13978.75,16774.5,19570.25,22366],"range":["#f7fbff","#deebf7","#c6dbef","#9ecae1","#6baed6","#4292c6","#2171b5","#08519c","#08306b"],"interpolate":"rgb"},"legend":null}}},
{"mark":{"type":"text","fontSize":8.3,"font":"DejaVu Sans"},
"encoding":{"text":{"field":"count","type":"quantitative","format":"d"},"color":{"condition":{"test":"datum.count > 11183","value":"white"},"value":"black"}}}
]
}
]
}
